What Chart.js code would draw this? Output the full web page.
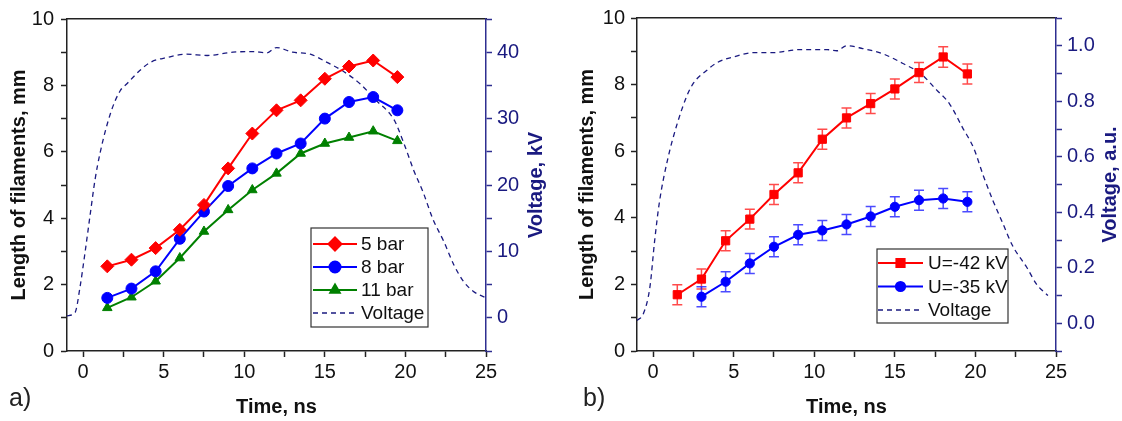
<!DOCTYPE html>
<html>
<head>
<meta charset="utf-8">
<script src="https://cdn.jsdelivr.net/npm/chart.js@4.4.1/dist/chart.umd.min.js"></script>
<style>
  html, body { margin: 0; padding: 0; background: #fff; }
  #wrap { display: flex; width: 1122px; height: 421px; }
  canvas { display: block; }
</style>
</head>
<body>
<div id="wrap">
  <canvas id="chartA" width="561" height="421"></canvas>
  <canvas id="chartB" width="561" height="421"></canvas>
</div>
<script>
// ---- panel a) : filament length at three pressures ----
const timesA = [1.5, 3, 4.5, 6, 7.5, 9, 10.5, 12, 13.5, 15, 16.5, 18, 19.5];
const bar5 = [2.55, 2.75, 3.1, 3.65, 4.4, 5.5, 6.55, 7.25, 7.55, 8.2, 8.57, 8.75, 8.25];
const bar8 = [1.6, 1.88, 2.4, 3.38, 4.2, 4.97, 5.5, 5.95, 6.25, 7.0, 7.5, 7.65, 7.25];
const bar11 = [1.3, 1.62, 2.1, 2.8, 3.6, 4.25, 4.85, 5.35, 5.95, 6.25, 6.43, 6.62, 6.33];
const voltTimeA = [-1, -0.5, -0.2, 0.1, 0.43, 0.74, 1.05, 1.7, 2.3, 2.7, 3.5, 4.2, 5.2, 6.4, 7.7, 9.3, 10.5, 11.4, 12.0, 13.0, 14.1, 15.1, 16.1, 17.2, 18.2, 19.3, 19.9, 20.5, 21.1, 21.7, 22.4, 23.0, 23.6, 24.2, 25];
const voltKV = [0.3, 0.8, 4.5, 9.5, 15.4, 20.8, 24.8, 30.8, 34.2, 35.2, 37.2, 38.5, 39.2, 39.7, 39.5, 40.0, 40.1, 39.9, 40.7, 40.0, 39.7, 38.5, 37.2, 35.2, 32.7, 29.8, 26.3, 22.3, 18.9, 14.9, 11.4, 8.0, 5.5, 4.0, 3.0];

// ---- panel b) : filament length at two voltages, with error bars ----
const timesB42 = [1.5, 3, 4.5, 6, 7.5, 9, 10.5, 12, 13.5, 15, 16.5, 18, 19.5];
const u42 = [1.69, 2.16, 3.31, 3.96, 4.7, 5.35, 6.36, 7.0, 7.43, 7.87, 8.36, 8.83, 8.32];
const u42Err = [0.3, 0.3, 0.3, 0.3, 0.3, 0.3, 0.3, 0.3, 0.3, 0.3, 0.3, 0.31, 0.3];
const timesB35 = [3, 4.5, 6, 7.5, 9, 10.5, 12, 13.5, 15, 16.5, 18, 19.5];
const u35 = [1.63, 2.08, 2.63, 3.13, 3.49, 3.62, 3.8, 4.04, 4.33, 4.53, 4.58, 4.48];
const u35Err = [0.3, 0.3, 0.3, 0.3, 0.3, 0.3, 0.3, 0.3, 0.3, 0.3, 0.3, 0.3];
const voltTimeB = [-1, -0.6, -0.2, 0.1, 0.4, 0.9, 1.5, 2.1, 2.5, 3.3, 4, 5, 6.2, 7.4, 9.1, 10.8, 11.4, 12.0, 13.0, 14.3, 15.5, 16.6, 17.6, 18.4, 19.2, 19.9, 20.5, 21.1, 21.7, 22.3, 23.2, 23.8, 24.5];
const voltAU = [0.01, 0.035, 0.13, 0.3, 0.44, 0.59, 0.72, 0.82, 0.865, 0.91, 0.94, 0.96, 0.975, 0.975, 0.986, 0.986, 0.982, 1.0, 0.99, 0.97, 0.936, 0.9, 0.84, 0.79, 0.705, 0.63, 0.53, 0.44, 0.36, 0.28, 0.2, 0.14, 0.1];

// ---- tick labels ----
const timeTicks = [0, 5, 10, 15, 20, 25];
const lengthTicks = [0, 2, 4, 6, 8, 10];
const kvTicks = [0, 10, 20, 30, 40];
const auTicks = [0, 0.2, 0.4, 0.6, 0.8, 1.0];

Chart.defaults.font.family = "'Liberation Sans', Arial, sans-serif";
Chart.defaults.font.size = 20;
Chart.defaults.color = '#111';

const RED = '#ff0000', BLUE = '#0000ff', GREEN = '#008000', NAVY = '#1a1a80';
const AXIS = '#222', NAVY_AXIS = '#2e2e90';

const pts = (xs, ys) => xs.map((x, i) => ({ x: x, y: ys[i] }));

// every tick between min and max at the given step (labels only where listed)
function tickSet(min, max, step) {
  return s => {
    const out = [];
    for (let v = min; v <= max + 1e-9; v += step) out.push({ value: Math.round(v * 1000) / 1000 });
    s.ticks = out;
  };
}
const has = (list, v) => list.some(t => Math.abs(t - v) < 1e-6);
const fixW = w => s => { s.width = w; };
const fixH = h => s => { s.height = h; };

function scalesFor(p) {
  return {
    x: {
      type: 'linear', position: 'bottom', min: -1, max: 25,
      afterBuildTicks: tickSet(0, 25, 2.5),
      ticks: { autoSkip: false, maxRotation: 0, padding: 3, color: '#111',
        callback: v => has(timeTicks, v) ? String(v) : '' },
      grid: { drawOnChartArea: false, tickLength: 6, color: AXIS, tickWidth: 1.5 },
      border: { color: AXIS, width: 1.5 },
      title: { display: true, text: 'Time, ns', color: '#111',
        font: { size: 20, weight: 'bold' }, padding: { top: 0, bottom: 2 } },
      afterFit: fixH(70)
    },
    xTop: {
      type: 'linear', position: 'top', axis: 'x', min: -1, max: 25,
      ticks: { display: false }, grid: { display: false },
      border: { color: AXIS, width: 1.5 },
      afterFit: fixH(0)
    },
    y: {
      type: 'linear', position: 'left', min: 0, max: 10,
      afterBuildTicks: tickSet(0, 10, 1),
      ticks: { autoSkip: false, padding: p.leftPad, color: '#111',
        callback: v => has(lengthTicks, v) ? String(v) : '' },
      grid: { drawOnChartArea: false, tickLength: 6, color: AXIS, tickWidth: 1.5 },
      border: { color: AXIS, width: 1.5 },
      title: { display: true, text: 'Length of filaments, mm', color: '#111',
        font: { size: 20, weight: 'bold' }, padding: { top: p.titlePad, bottom: 0 } },
      afterFit: fixW(p.leftW)
    },
    y2: {
      type: 'linear', position: 'right', min: p.rMin, max: p.rMax,
      afterBuildTicks: tickSet(p.rMin, p.rMax, p.rStep),
      ticks: { autoSkip: false, padding: 5, color: NAVY,
        callback: v => has(p.rLabels, v) ? v.toFixed(p.rDec) : '' },
      grid: { drawOnChartArea: false, tickLength: 6, color: NAVY_AXIS, tickWidth: 1.5 },
      border: { color: NAVY_AXIS, width: 1.5 },
      afterFit: fixW(p.rightW)
    }
  };
}

// error bars, legend box, right-hand axis title and panel letter
const decor = {
  id: 'decor',
  beforeDatasetsDraw(chart) {
    const ctx = chart.ctx;
    chart.data.datasets.forEach((ds, i) => {
      if (!ds.errors) return;
      const meta = chart.getDatasetMeta(i);
      const xs = chart.scales[meta.xAxisID], ys = chart.scales[meta.yAxisID];
      ctx.save();
      ctx.strokeStyle = ds.errorColor;
      ctx.lineWidth = 1.5;
      ds.data.forEach((pt, k) => {
        const e = ds.errors[k];
        const px = xs.getPixelForValue(pt.x);
        const top = ys.getPixelForValue(pt.y + e), bot = ys.getPixelForValue(pt.y - e);
        ctx.beginPath();
        ctx.moveTo(px, top); ctx.lineTo(px, bot);
        ctx.moveTo(px - 5, top); ctx.lineTo(px + 5, top);
        ctx.moveTo(px - 5, bot); ctx.lineTo(px + 5, bot);
        ctx.stroke();
      });
      ctx.restore();
    });
  },
  afterDraw(chart, args, o) {
    const ctx = chart.ctx;
    const ca = chart.chartArea;
    ctx.save();
    // legend
    const L = o.legend;
    ctx.fillStyle = '#fff';
    ctx.fillRect(L.x, L.y, L.w, L.h);
    ctx.strokeStyle = '#333';
    ctx.lineWidth = 1.2;
    ctx.strokeRect(L.x, L.y, L.w, L.h);
    L.rows.forEach((di, r) => {
      const ds = chart.data.datasets[di];
      const y = L.y + L.first + r * L.step;
      ctx.save();
      ctx.strokeStyle = ds.borderColor;
      ctx.lineWidth = ds.borderWidth;
      ctx.setLineDash(ds.borderDash || []);
      ctx.beginPath(); ctx.moveTo(L.x1, y); ctx.lineTo(L.x2, y); ctx.stroke();
      ctx.setLineDash([]);
      if (ds.pointRadius > 0) {
        ctx.fillStyle = ds.backgroundColor;
        ctx.strokeStyle = ds.borderColor;
        Chart.helpers.drawPoint(ctx, { pointStyle: ds.pointStyle, radius: ds.pointRadius, borderWidth: 1, rotation: 0 }, (L.x1 + L.x2) / 2, y);
      }
      ctx.restore();
      ctx.fillStyle = '#111';
      ctx.font = "19px 'Liberation Sans', Arial, sans-serif";
      ctx.textAlign = 'left';
      ctx.textBaseline = 'middle';
      ctx.fillText(ds.label, L.tx, y + 1);
    });
    // right axis title, read bottom to top
    ctx.save();
    ctx.translate(o.rightTitleX, (ca.top + ca.bottom) / 2);
    ctx.rotate(-Math.PI / 2);
    ctx.fillStyle = NAVY;
    ctx.font = "bold 20px 'Liberation Sans', Arial, sans-serif";
    ctx.textAlign = 'center';
    ctx.textBaseline = 'middle';
    ctx.fillText(o.rightTitle, 0, 0);
    ctx.restore();
    // panel letter
    ctx.fillStyle = '#222';
    ctx.font = "25px 'Liberation Sans', Arial, sans-serif";
    ctx.textAlign = 'left';
    ctx.textBaseline = 'alphabetic';
    ctx.fillText(o.letter, o.letterX, 406);
    ctx.restore();
  }
};

const voltStyle = { borderColor: NAVY, backgroundColor: NAVY, borderWidth: 1.3, borderDash: [5, 4],
  pointRadius: 0, cubicInterpolationMode: 'monotone', yAxisID: 'y2' };

new Chart(document.getElementById('chartA'), {
  type: 'line',
  data: {
    datasets: [
      { label: '5 bar', data: pts(timesA, bar5), borderColor: RED, backgroundColor: RED, borderWidth: 2,
        pointStyle: 'rectRot', pointRadius: 6.5, pointBorderWidth: 1, yAxisID: 'y' },
      { label: '8 bar', data: pts(timesA, bar8), borderColor: BLUE, backgroundColor: BLUE, borderWidth: 2,
        pointStyle: 'circle', pointRadius: 5.5, pointBorderWidth: 1, yAxisID: 'y' },
      { label: '11 bar', data: pts(timesA, bar11), borderColor: GREEN, backgroundColor: GREEN, borderWidth: 2,
        pointStyle: 'triangle', pointRadius: 5.5, pointBorderWidth: 1, yAxisID: 'y' },
      Object.assign({ label: 'Voltage', data: pts(voltTimeA, voltKV) }, voltStyle)
    ]
  },
  options: {
    responsive: false, animation: false,
    layout: { padding: { top: 14, left: 0, right: 0, bottom: 0 } },
    plugins: {
      legend: { display: false }, tooltip: { enabled: false },
      decor: {
        legend: { x: 311, y: 228, w: 117, h: 99, first: 16, step: 23, x1: 313, x2: 357, tx: 361, rows: [0, 1, 2, 3] },
        rightTitle: 'Voltage, kV', rightTitleX: 536, letter: 'a)', letterX: 9
      }
    },
    scales: scalesFor({ leftW: 67, rightW: 75, leftPad: 7, titlePad: 7,
      rMin: -5, rMax: 45, rStep: 5, rLabels: kvTicks, rDec: 0 })
  },
  plugins: [decor]
});

new Chart(document.getElementById('chartB'), {
  type: 'line',
  data: {
    datasets: [
      { label: 'U=-42 kV', data: pts(timesB42, u42), errors: u42Err, errorColor: 'rgba(255,30,30,0.8)',
        borderColor: RED, backgroundColor: RED, borderWidth: 2,
        pointStyle: 'rect', pointRadius: 5.8, pointBorderWidth: 1, yAxisID: 'y' },
      { label: 'U=-35 kV', data: pts(timesB35, u35), errors: u35Err, errorColor: 'rgba(30,30,255,0.8)',
        borderColor: BLUE, backgroundColor: BLUE, borderWidth: 2,
        pointStyle: 'circle', pointRadius: 4.6, pointBorderWidth: 1, yAxisID: 'y' },
      Object.assign({ label: 'Voltage', data: pts(voltTimeB, voltAU) }, voltStyle)
    ]
  },
  options: {
    responsive: false, animation: false,
    layout: { padding: { top: 14, left: 0, right: 0, bottom: 0 } },
    plugins: {
      legend: { display: false }, tooltip: { enabled: false },
      decor: {
        legend: { x: 316, y: 249, w: 131, h: 74, first: 14, step: 23.5, x1: 317, x2: 362, tx: 367, rows: [0, 1, 2] },
        rightTitle: 'Voltage, a.u.', rightTitleX: 549, letter: 'b)', letterX: 22
      }
    },
    scales: scalesFor({ leftW: 76, rightW: 66, leftPad: 6, titlePad: 14.5,
      rMin: -0.1, rMax: 1.1, rStep: 0.1, rLabels: auTicks, rDec: 1 })
  },
  plugins: [decor]
});
</script>
</body>
</html>
